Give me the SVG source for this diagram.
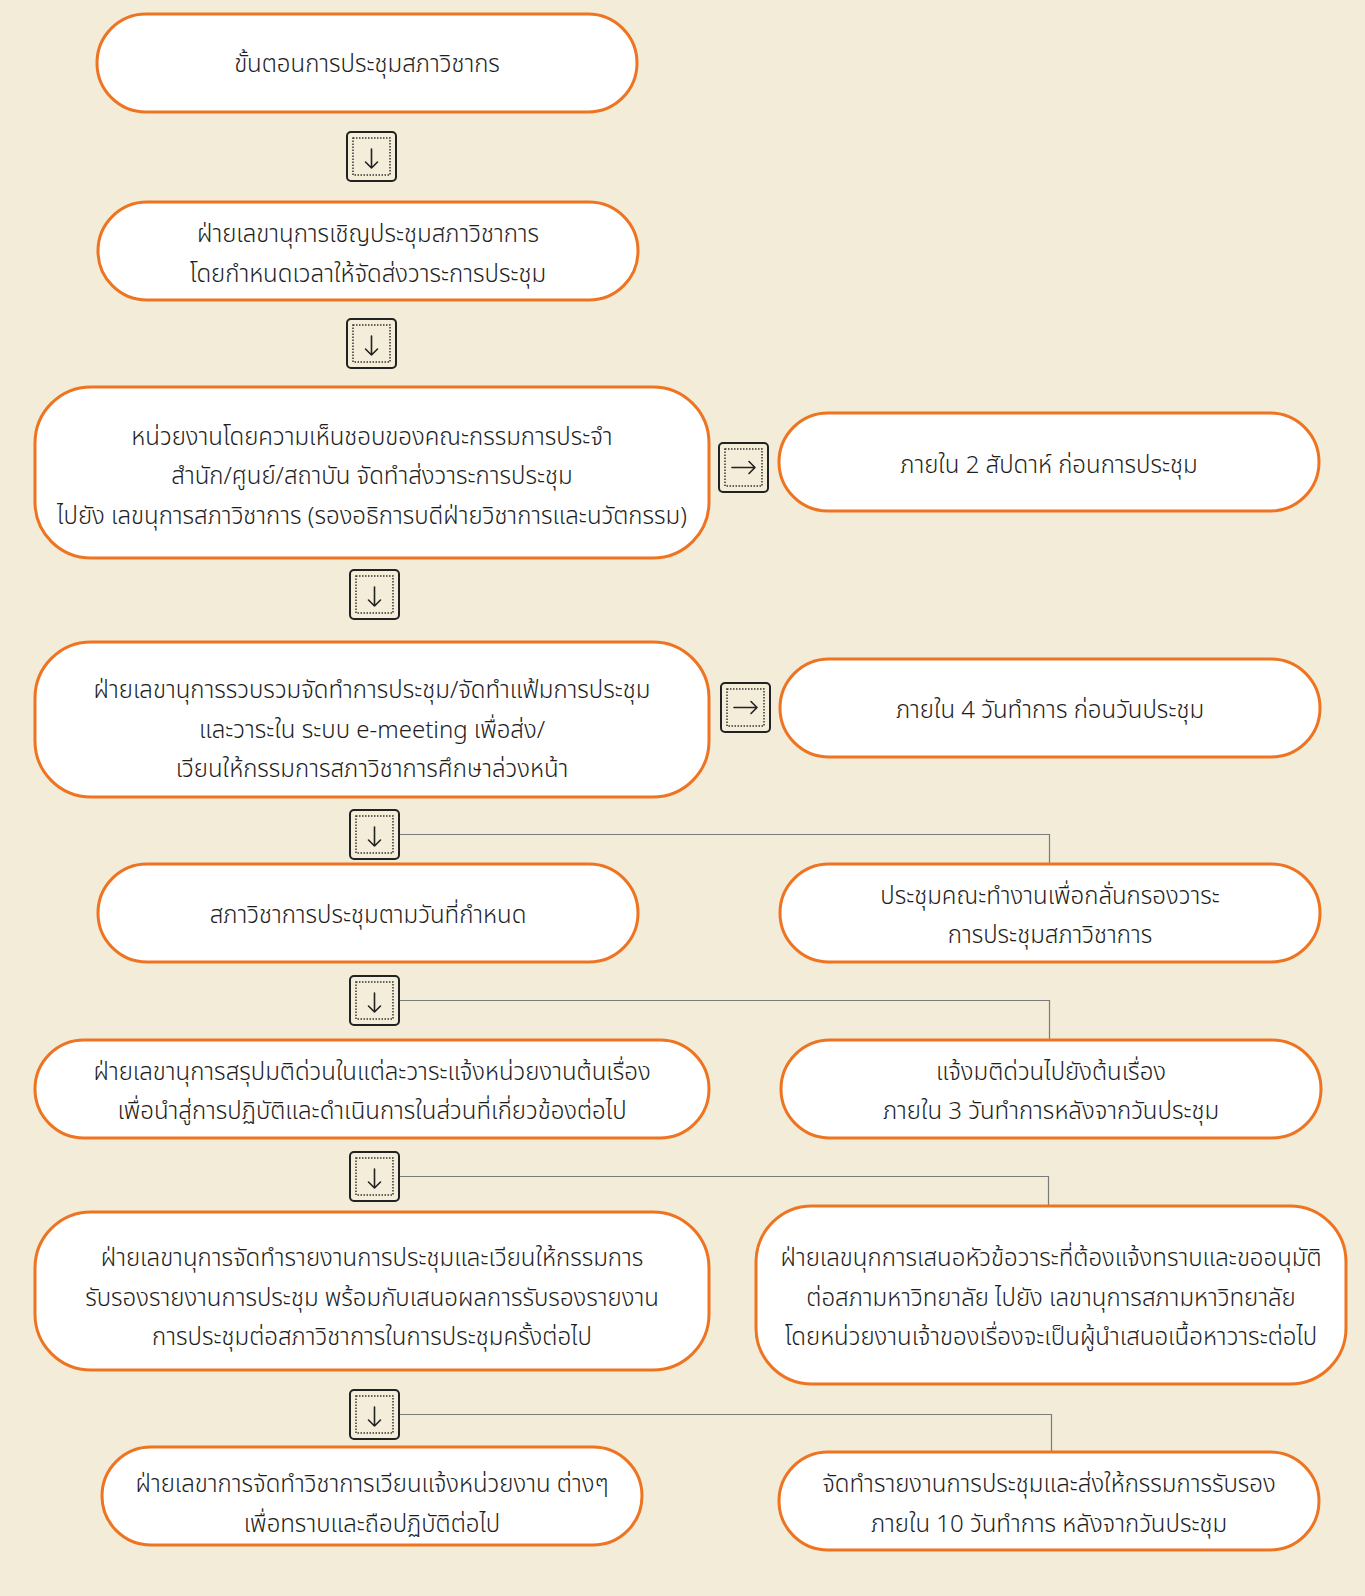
<svg xmlns="http://www.w3.org/2000/svg" width="1365" height="1596" viewBox="0 0 1365 1596">
<defs>
<style>
.node rect{fill:#FFFFFF;stroke:#EE7421;stroke-width:3}
.node text{font-family:"Noto Sans Thai","Noto Sans","DejaVu Sans",sans-serif;font-size:24px;font-weight:300;fill:#1E1E1E;text-anchor:middle}
.conn{fill:none;stroke:#7a7a7a;stroke-width:1.2}
</style>
<g id="adown">
<rect x="0" y="0" width="49" height="49" rx="4" fill="#F3EDDA" stroke="#222222" stroke-width="2"/>
<rect x="6" y="6" width="37" height="37" fill="none" stroke="#333333" stroke-width="1.5" stroke-dasharray="1.5 1.5"/>
<path d="M24.5 17V36M18.5 30L24.5 36L30.5 30" fill="none" stroke="#222222" stroke-width="1.6" stroke-linecap="round" stroke-linejoin="round"/>
</g>
<g id="aright">
<rect x="0" y="0" width="49" height="49" rx="4" fill="#F3EDDA" stroke="#222222" stroke-width="2"/>
<rect x="6" y="6" width="37" height="37" fill="none" stroke="#333333" stroke-width="1.5" stroke-dasharray="1.5 1.5"/>
<path d="M13 24.5H36M30 18.5L36 24.5L30 30.5" fill="none" stroke="#222222" stroke-width="1.6" stroke-linecap="round" stroke-linejoin="round"/>
</g>
</defs>
<rect x="0" y="0" width="1365" height="1596" fill="#F2ECD9"/>

<g id="connectors">
<path class="conn" d="M399 834.5H1049.5V864"/>
<path class="conn" d="M399 1000.5H1049.5V1040"/>
<path class="conn" d="M399 1176.5H1048.5V1206"/>
<path class="conn" d="M399 1414.5H1051.5V1452"/>
<use href="#adown" x="347" y="132"/>
<use href="#adown" x="347" y="319"/>
<use href="#aright" x="719" y="443"/>
<use href="#adown" x="350" y="570"/>
<use href="#aright" x="721" y="683"/>
<use href="#adown" x="350" y="810"/>
<use href="#adown" x="350" y="976"/>
<use href="#adown" x="350" y="1152"/>
<use href="#adown" x="350" y="1390"/>
</g>

<g id="n1" class="node">
<rect x="97" y="14" width="540" height="98" rx="49"/>
<text x="367" y="72">ขั้นตอนการประชุมสภาวิชากร</text>
</g>
<g id="n2" class="node">
<rect x="98" y="202" width="540" height="98" rx="49"/>
<text x="368" y="242">ฝ่ายเลขานุการเชิญประชุมสภาวิชาการ</text>
<text x="368" y="282">โดยกำหนดเวลาให้จัดส่งวาระการประชุม</text>
</g>
<g id="n3" class="node">
<rect x="35" y="387" width="674" height="171" rx="56"/>
<text x="372" y="445">หน่วยงานโดยความเห็นชอบของคณะกรรมการประจำ</text>
<text x="372" y="484">สำนัก/ศูนย์/สถาบัน จัดทำส่งวาระการประชุม</text>
<text x="372" y="524">ไปยัง เลขนุการสภาวิชาการ (รองอธิการบดีฝ่ายวิชาการและนวัตกรรม)</text>
</g>
<g id="n3r" class="node">
<rect x="779" y="413" width="540" height="98" rx="49"/>
<text x="1049" y="473">ภายใน 2 สัปดาห์ ก่อนการประชุม</text>
</g>
<g id="n4" class="node">
<rect x="35" y="642" width="674" height="155" rx="56"/>
<text x="372" y="698">ฝ่ายเลขานุการรวบรวมจัดทำการประชุม/จัดทำแฟ้มการประชุม</text>
<text x="372" y="738">และวาระใน ระบบ e-meeting เพื่อส่ง/</text>
<text x="372" y="777">เวียนให้กรรมการสภาวิชาการศึกษาล่วงหน้า</text>
</g>
<g id="n4r" class="node">
<rect x="780" y="659" width="540" height="98" rx="49"/>
<text x="1050" y="718">ภายใน 4 วันทำการ ก่อนวันประชุม</text>
</g>
<g id="n5" class="node">
<rect x="98" y="864" width="540" height="98" rx="49"/>
<text x="368" y="923">สภาวิชาการประชุมตามวันที่กำหนด</text>
</g>
<g id="n5r" class="node">
<rect x="780" y="864" width="540" height="98" rx="49"/>
<text x="1050" y="904">ประชุมคณะทำงานเพื่อกลั่นกรองวาระ</text>
<text x="1050" y="943">การประชุมสภาวิชาการ</text>
</g>
<g id="n6" class="node">
<rect x="35" y="1040" width="674" height="98" rx="49"/>
<text x="372" y="1080">ฝ่ายเลขานุการสรุปมติด่วนในแต่ละวาระแจ้งหน่วยงานต้นเรื่อง</text>
<text x="372" y="1119">เพื่อนำสู่การปฏิบัติและดำเนินการในส่วนที่เกี่ยวข้องต่อไป</text>
</g>
<g id="n6r" class="node">
<rect x="781" y="1040" width="540" height="98" rx="49"/>
<text x="1051" y="1080">แจ้งมติด่วนไปยังต้นเรื่อง</text>
<text x="1051" y="1119">ภายใน 3 วันทำการหลังจากวันประชุม</text>
</g>
<g id="n7" class="node">
<rect x="35" y="1212" width="674" height="158" rx="56"/>
<text x="372" y="1266">ฝ่ายเลขานุการจัดทำรายงานการประชุมและเวียนให้กรรมการ</text>
<text x="372" y="1306">รับรองรายงานการประชุม พร้อมกับเสนอผลการรับรองรายงาน</text>
<text x="372" y="1345">การประชุมต่อสภาวิชาการในการประชุมครั้งต่อไป</text>
</g>
<g id="n7r" class="node">
<rect x="756" y="1206" width="590" height="178" rx="56"/>
<text x="1051" y="1266">ฝ่ายเลขนุกการเสนอหัวข้อวาระที่ต้องแจ้งทราบและขออนุมัติ</text>
<text x="1051" y="1306">ต่อสภามหาวิทยาลัย ไปยัง เลขานุการสภามหาวิทยาลัย</text>
<text x="1051" y="1345">โดยหน่วยงานเจ้าของเรื่องจะเป็นผู้นำเสนอเนื้อหาวาระต่อไป</text>
</g>
<g id="n8" class="node">
<rect x="102" y="1447" width="540" height="98" rx="49"/>
<text x="372" y="1492">ฝ่ายเลขาการจัดทำวิชาการเวียนแจ้งหน่วยงาน ต่างๆ</text>
<text x="372" y="1532">เพื่อทราบและถือปฏิบัติต่อไป</text>
</g>
<g id="n8r" class="node">
<rect x="779" y="1452" width="540" height="98" rx="49"/>
<text x="1049" y="1492">จัดทำรายงานการประชุมและส่งให้กรรมการรับรอง</text>
<text x="1049" y="1532">ภายใน 10 วันทำการ หลังจากวันประชุม</text>
</g>
</svg>
